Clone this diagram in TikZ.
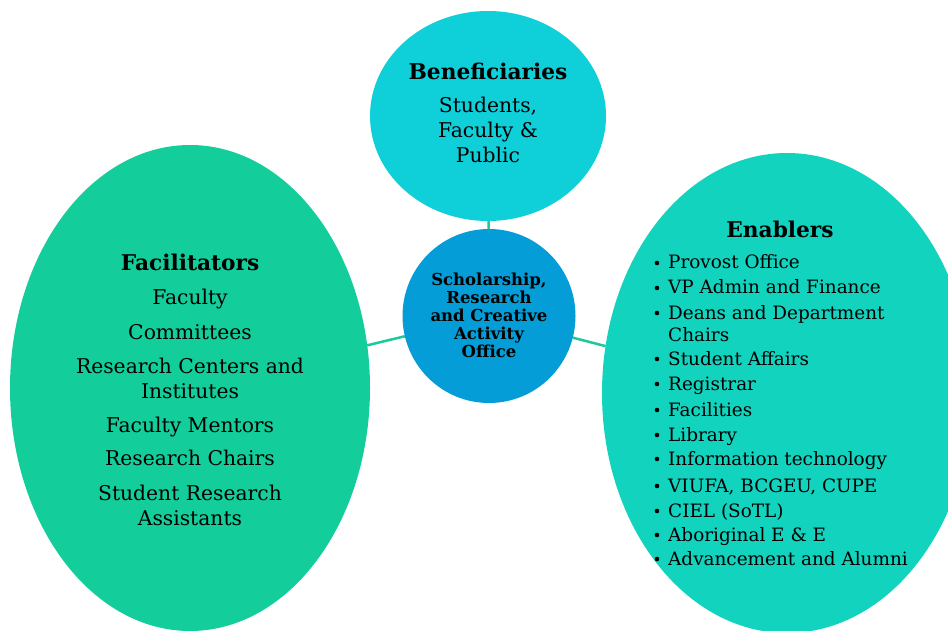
\documentclass[tikz,border=0pt]{standalone}
\usepackage{fontspec}
\setmainfont{DejaVu Serif}
\usetikzlibrary{shapes.geometric}
\definecolor{benefc}{HTML}{0FCFD9}
\definecolor{officec}{HTML}{049DD7}
\definecolor{facilc}{HTML}{13CE9A}
\definecolor{enablc}{HTML}{11D3BE}
\definecolor{linkc}{HTML}{1CC99A}
\begin{document}
\begin{tikzpicture}[x=1pt,y=-1pt,
  blob/.style={ellipse, draw=none, inner sep=0pt, outer sep=0pt},
  ttl/.style={font=\fontsize{21.7}{24}\selectfont\bfseries, anchor=base, inner sep=0pt},
  txt/.style={font=\fontsize{20.3}{22}\selectfont, anchor=base, inner sep=0pt},
  itm/.style={font=\fontsize{18.4}{20}\selectfont, anchor=base west, inner sep=0pt},
  ctr/.style={font=\fontsize{16.5}{18}\selectfont\bfseries, anchor=base, inner sep=0pt},
  link/.style={draw=linkc, line width=2.5pt}
]
\useasboundingbox (0,0) rectangle (948,631);
\clip (0,0) rectangle (948,631);

% the four regions
\node[blob, fill=benefc, minimum width=236pt, minimum height=210pt] (ben) at (488,116) {};
\node[blob, fill=facilc, minimum width=360pt, minimum height=486pt] (fac) at (190,388) {};
\node[blob, fill=enablc, minimum width=370pt, minimum height=480pt] (ena) at (787,393) {};
\node[blob, fill=officec, minimum width=173pt, minimum height=174pt] (off) at (489,316) {};

% links to the central office
\draw[link] (off) -- (ben);
\draw[link] (off) -- (fac);
\draw[link] (off) -- (ena);

% beneficiaries
\node[ttl] (benT) at (488,80) {Beneficiaries};
\node[txt] (ben1) at (488,113) {Students,};
\node[txt] (ben2) at (488,138) {Faculty \&};
\node[txt] (ben3) at (488,163) {Public};

% central office
\node[ctr] (off1) at (489,286) {Scholarship,};
\node[ctr] (off2) at (489,303) {Research};
\node[ctr] (off3) at (489,321) {and Creative};
\node[ctr] (off4) at (489,339) {Activity};
\node[ctr] (off5) at (489,357) {Office};

% facilitators
\node[ttl] (facT) at (190,271) {Facilitators};
\foreach \y/\t [count=\i] in {304/Faculty, 339/Committees, 373/Research Centers and,
    398/Institutes, 432/Faculty Mentors, 465/Research Chairs,
    500/Student Research, 525/Assistants}
  \node[txt] (fac\i) at (190,\y) {\t};

% enablers
\node[ttl] (enaT) at (780,237) {Enablers};
\foreach \y/\t/\b [count=\i] in {269/Provost Office/1, 294/VP Admin and Finance/1,
    319/Deans and Department/1, 341/Chairs/0, 365/Student Affairs/1,
    390/Registrar/1, 416/Facilities/1, 441/Library/1,
    465/Information technology/1, 492/{VIUFA, BCGEU, CUPE}/1,
    517/CIEL (SoTL)/1, 541/Aboriginal E \& E/1, 565/Advancement and Alumni/1}
{
  \node[itm] (ena\i) at (668,\y) {\t};
  \ifnum\b=1 \fill (ena\i.base west) ++(-11,-6) circle (2.3pt); \fi
}
\end{tikzpicture}
\end{document}
